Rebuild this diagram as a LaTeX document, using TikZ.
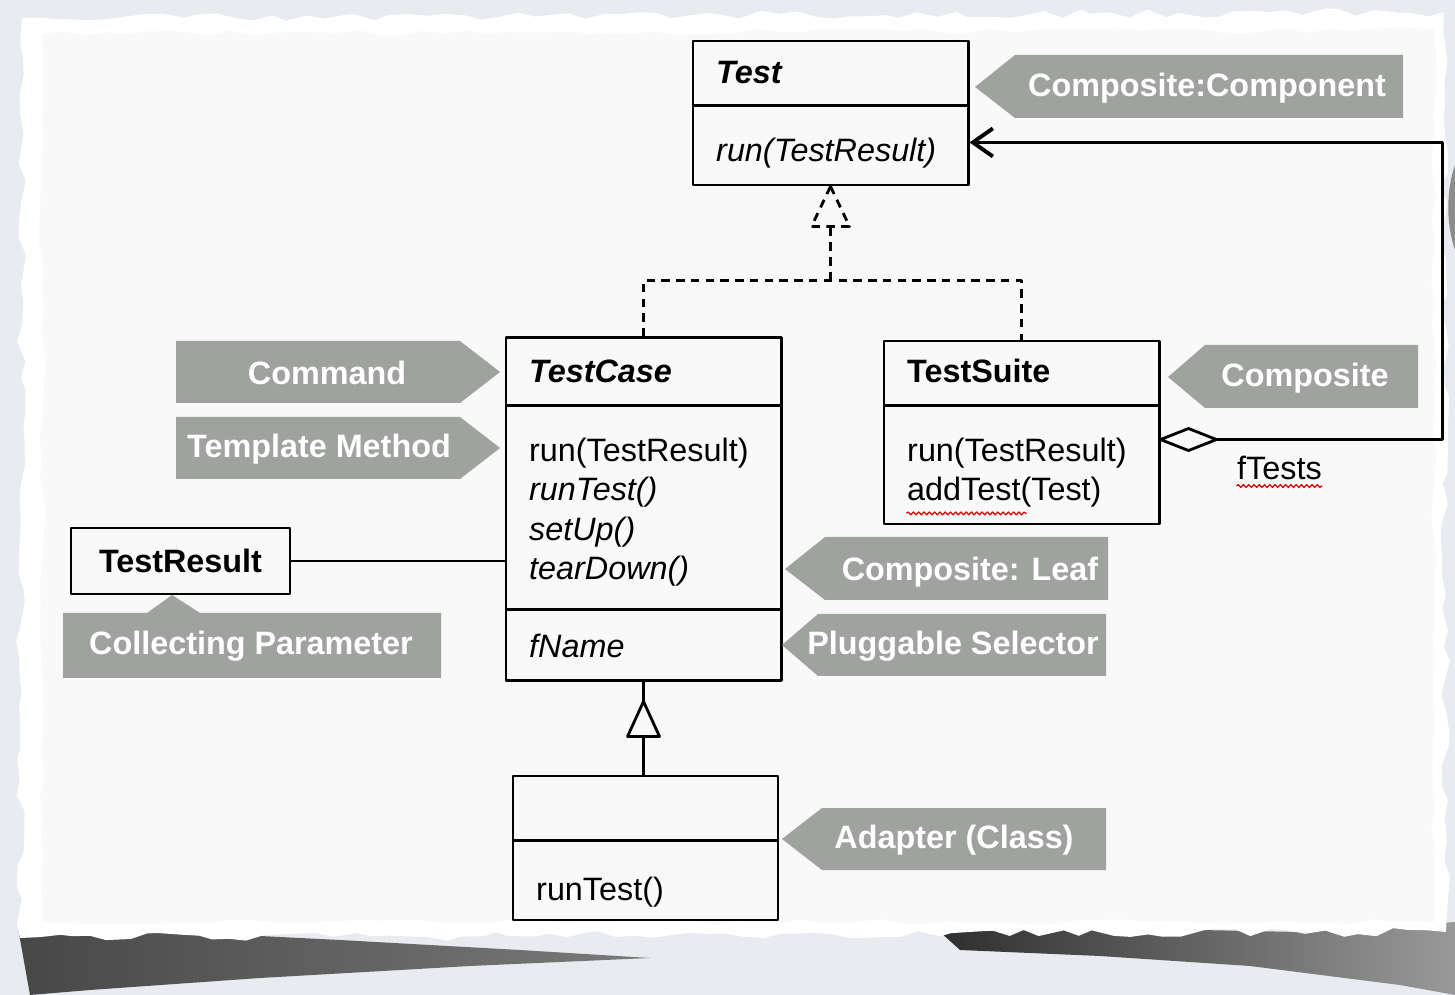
\documentclass[tikz,border=0pt]{standalone}
\usepackage{fontspec}
\setmainfont{Liberation Sans}
\usetikzlibrary{positioning,calc,arrows.meta,decorations.pathmorphing}
\definecolor{tagfill}{RGB}{160,162,160}
\definecolor{deskbg}{RGB}{232,235,239}
\definecolor{paper}{RGB}{249,249,249}
\tikzset{
  cls/.style={draw, line width=0.8pt, minimum width=2.75cm, inner sep=0pt},
  member/.style={anchor=mid west, inner sep=0pt, yshift=-0.9pt, font=\fontsize{9.2}{11}\selectfont},
  absmember/.style={member, font=\fontsize{9.2}{11}\selectfont\itshape},
  clsname/.style={member, font=\fontsize{9.2}{11}\selectfont\bfseries},
  absname/.style={member, font=\fontsize{9.2}{11}\selectfont\bfseries\itshape},
  tag/.style={fill=tagfill},
  tagtext/.style={text=white, inner sep=0pt, font=\fontsize{9.2}{11}\selectfont\bfseries},
  realize/.style={line width=0.8pt, dash pattern=on 2.4pt off 1.8pt},
  squiggle/.style={red!85!black, line width=0.35pt, decorate, decoration={snake, amplitude=0.4pt, segment length=1.5pt}},
}

\begin{document}
\begin{tikzpicture}[x=0.01cm, y=-0.01cm, line join=round]
% desk, shadows and torn paper
\fill[deskbg] (0,0) rectangle (1455,995);
\useasboundingbox (0,0) rectangle (1455,995);
\pgfmathsetseed{11}
\shade[left color=black!72, right color=black!52] (18,928) -- (180,932) -- (340,940) -- (520,950) -- (650,958) -- (470,966) -- (260,978) -- (90,990) -- (30,995) -- cycle;
\shade[left color=black!82, right color=black!40] (940,932) -- (1100,928) -- (1300,932) -- (1455,922) -- (1455,995) -- (1400,985) -- (1250,966) -- (1100,956) -- (960,950) -- cycle;
\fill[black!45] (1455,165) .. controls (1446,190) and (1446,225) .. (1455,250) -- cycle;
\fill[white, decorate, decoration={random steps, segment length=5pt, amplitude=1.3pt}] (22,18) -- (1444,12) -- (1446,932) -- (20,938) -- cycle;
\fill[paper, decorate, decoration={random steps, segment length=6pt, amplitude=0.8pt}] (42,34) -- (1434,30) -- (1434,922) -- (42,922) -- cycle;

% classes
\node[cls, minimum height=1.44cm] (test) at (830.5,113) {};
\draw[line width=0.8pt] ($(test.north west)+(0,66)$) -- ($(test.north east)+(0,66)$);
\node[absname] (testname) at ($(test.north west)+(24,32)$) {Test};
\node[absmember] (testrun) at ($(test.north west)+(24,110)$) {run(TestResult)};

\node[cls, minimum height=3.42cm] (testcase) at (643.5,509) {};
\draw[line width=0.8pt] ($(testcase.north west)+(0,69)$) -- ($(testcase.north east)+(0,69)$);
\draw[line width=0.8pt] ($(testcase.north west)+(0,273)$) -- ($(testcase.north east)+(0,273)$);
\node[absname] (casename) at ($(testcase.north west)+(24,34)$) {TestCase};
\node[member] (caserun) at ($(testcase.north west)+(24,113)$) {run(TestResult)};
\node[absmember] (caseruntest) at ($(testcase.north west)+(24,152)$) {runTest()};
\node[absmember] (casesetup) at ($(testcase.north west)+(24,192)$) {setUp()};
\node[absmember] (caseteardown) at ($(testcase.north west)+(24,231)$) {tearDown()};
\node[absmember] (casefname) at ($(testcase.north west)+(24,309)$) {fName};

\node[cls, minimum height=1.83cm] (testsuite) at (1021.5,432.5) {};
\draw[line width=0.8pt] ($(testsuite.north west)+(0,66)$) -- ($(testsuite.north east)+(0,66)$);
\node[clsname] (suitename) at ($(testsuite.north west)+(24,31)$) {TestSuite};
\node[member] (suiterun) at ($(testsuite.north west)+(24,110)$) {run(TestResult)};
\node[member] (addtest) at ($(testsuite.north west)+(24,149)$) {addTest(Test)};
\draw[squiggle] ($(addtest.south west)+(0,5)$) -- ++(120,0);

\node[cls, minimum width=2.19cm, minimum height=0.66cm, font=\fontsize{9.2}{11}\selectfont\bfseries] (testresult) at (180.5,561) {TestResult};

\node[cls, minimum width=2.65cm, minimum height=1.44cm] (adapter) at (645.5,848) {};
\draw[line width=0.8pt] ($(adapter.north west)+(0,66)$) -- ($(adapter.north east)+(0,66)$);
\node[member] (adapterrun) at ($(adapter.north west)+(24,113)$) {runTest()};

% connectors
\coordinate (fork) at ($(test.south)+(0,94)$);
\draw[realize] (testcase.north) |- (fork) -| (testsuite.north);
\draw[realize] (fork) -- ++(0,-54) coordinate (rbase);
\draw[realize] (test.south) -- ($(rbase)+(-19,0)$) -- ($(rbase)+(19,0)$) -- cycle;

\draw[line width=0.8pt] (testcase.south) -- ++(0,20) coordinate (gtip);
\draw[line width=0.8pt, fill=paper] (gtip) -- ++(-16,35) -- ++(32,0) -- cycle;
\draw[line width=0.8pt] ($(gtip)+(0,35)$) -- (gtip |- adapter.north);

\draw[line width=0.8pt] (testresult.east) -- (testresult.east -| testcase.west);

\coordinate (agg) at ($(testsuite.north east)+(0,100)$);
\draw[line width=0.8pt, fill=paper] (agg) -- ++(28,-11) -- ++(28,11) coordinate (aggend) -- ++(-28,11) -- cycle;
\coordinate (testin) at ($(test.south east)+(0,-44)$);
\draw[line width=0.8pt, -{Straight Barb[length=2mm, width=2.8mm, line width=1.1pt]}] (aggend) -- ++(226,0) |- (testin);
\node[member] (ftests) at ($(agg)+(76,28)$) {fTests};
\draw[squiggle] ($(ftests.south west)+(0,5)$) -- ($(ftests.south east)+(0,5)$);

% pattern tags
\fill[tag] (975,87) -- (1015,55) -- (1403,55) -- (1403,118) -- (1015,118) -- cycle;
\node[tagtext] (tcomponent) at (1207,88) {Composite:Component};
\fill[tag] (176,341) -- (460,341) -- (500,372) -- (460,403) -- (176,403) -- cycle;
\node[tagtext] (tcommand) at (327,373) {Command};
\fill[tag] (176,417) -- (460,417) -- (500,448) -- (460,479) -- (176,479) -- cycle;
\node[tagtext] (ttemplate) at (319,449) {Template Method};
\fill[tag] (1168,377) -- (1205,345) -- (1418,345) -- (1418,408) -- (1205,408) -- cycle;
\node[tagtext] (tcomposite) at (1305,378) {Composite};
\fill[tag] (785,569) -- (825,537) -- (1108,537) -- (1108,600) -- (825,600) -- cycle;
\node[tagtext] (tleaf) at (970,572) {Composite: Leaf};
\fill[tag] (782,645) -- (818,614) -- (1106,614) -- (1106,676) -- (818,676) -- cycle;
\node[tagtext] (tpluggable) at (953,646) {Pluggable Selector};
\fill[tag] (782,839) -- (822,808) -- (1106,808) -- (1106,870) -- (822,870) -- cycle;
\node[tagtext] (tadapter) at (954,840) {Adapter (Class)};
\fill[tag] (63,613) -- (147,613) -- (172,595) -- (200,613) -- (441,613) -- (441,678) -- (63,678) -- cycle;
\node[tagtext] (tcollecting) at (251,646) {Collecting Parameter};
\end{tikzpicture}
\end{document}
